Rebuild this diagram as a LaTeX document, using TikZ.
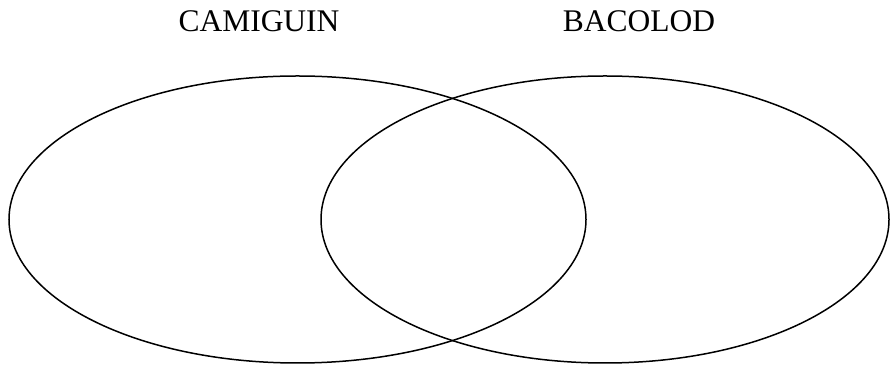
\documentclass[tikz,border=0pt]{standalone}
\usepackage{fontspec}
\setmainfont{Liberation Serif}
\begin{document}
\begin{tikzpicture}[x=1pt,y=1pt,
  ring/.style={draw=black,line width=1.5pt},
  lbl/.style={font=\fontsize{31.5}{34}\selectfont,inner sep=0pt}]
\useasboundingbox (0,0) rectangle (890,366);
\draw[ring] (297.5,146.5) ellipse [x radius=288.5, y radius=143.5];
\draw[ring] (605,146.5) ellipse [x radius=284, y radius=143.5];
\node[lbl] (cam) at (259,345) {CAMIGUIN};
\node[lbl] (bac) at (639,345) {BACOLOD};
\end{tikzpicture}
\end{document}
